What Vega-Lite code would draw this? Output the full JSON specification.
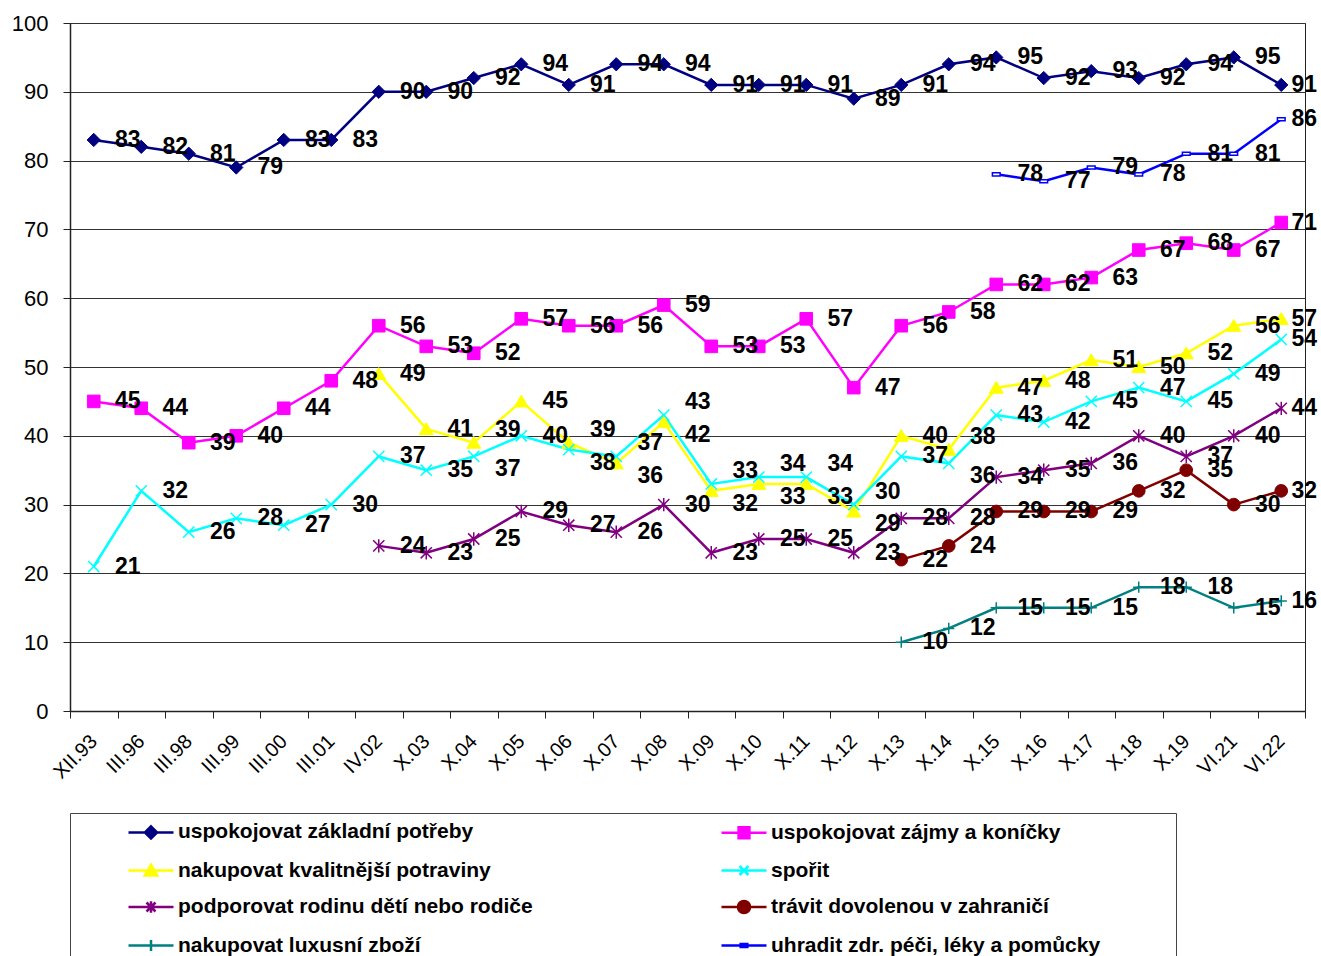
{
  "$schema": "https://vega.github.io/schema/vega-lite/v6.json",
  "width": 1235,
  "height": 688,
  "autosize": {"type": "none"},
  "padding": {"left": 70, "top": 23, "right": 16, "bottom": 245},
  "background": "white",
  "config": {
    "view": {"stroke": "#222", "strokeWidth": 1},
    "font": "Liberation Sans",
    "axis": {"labelFont": "Liberation Sans", "labelColor": "black", "domainColor": "#222", "tickColor": "#222", "title": null},
    "text": {"fontSize": 23, "fontWeight": "bold", "font": "Liberation Sans", "color": "black", "align": "center", "baseline": "middle"}
  },
  "data": {
    "values": [
      {"period": "XII.93", "series": "uspokojovat základní potřeby", "value": 83},
      {"period": "III.96", "series": "uspokojovat základní potřeby", "value": 82},
      {"period": "III.98", "series": "uspokojovat základní potřeby", "value": 81},
      {"period": "III.99", "series": "uspokojovat základní potřeby", "value": 79},
      {"period": "III.00", "series": "uspokojovat základní potřeby", "value": 83},
      {"period": "III.01", "series": "uspokojovat základní potřeby", "value": 83},
      {"period": "IV.02", "series": "uspokojovat základní potřeby", "value": 90},
      {"period": "X.03", "series": "uspokojovat základní potřeby", "value": 90},
      {"period": "X.04", "series": "uspokojovat základní potřeby", "value": 92},
      {"period": "X.05", "series": "uspokojovat základní potřeby", "value": 94},
      {"period": "X.06", "series": "uspokojovat základní potřeby", "value": 91},
      {"period": "X.07", "series": "uspokojovat základní potřeby", "value": 94},
      {"period": "X.08", "series": "uspokojovat základní potřeby", "value": 94},
      {"period": "X.09", "series": "uspokojovat základní potřeby", "value": 91},
      {"period": "X.10", "series": "uspokojovat základní potřeby", "value": 91},
      {"period": "X.11", "series": "uspokojovat základní potřeby", "value": 91},
      {"period": "X.12", "series": "uspokojovat základní potřeby", "value": 89},
      {"period": "X.13", "series": "uspokojovat základní potřeby", "value": 91},
      {"period": "X.14", "series": "uspokojovat základní potřeby", "value": 94},
      {"period": "X.15", "series": "uspokojovat základní potřeby", "value": 95},
      {"period": "X.16", "series": "uspokojovat základní potřeby", "value": 92},
      {"period": "X.17", "series": "uspokojovat základní potřeby", "value": 93},
      {"period": "X.18", "series": "uspokojovat základní potřeby", "value": 92},
      {"period": "X.19", "series": "uspokojovat základní potřeby", "value": 94},
      {"period": "VI.21", "series": "uspokojovat základní potřeby", "value": 95},
      {"period": "VI.22", "series": "uspokojovat základní potřeby", "value": 91},

      {"period": "XII.93", "series": "uspokojovat zájmy a koníčky", "value": 45},
      {"period": "III.96", "series": "uspokojovat zájmy a koníčky", "value": 44},
      {"period": "III.98", "series": "uspokojovat zájmy a koníčky", "value": 39},
      {"period": "III.99", "series": "uspokojovat zájmy a koníčky", "value": 40},
      {"period": "III.00", "series": "uspokojovat zájmy a koníčky", "value": 44},
      {"period": "III.01", "series": "uspokojovat zájmy a koníčky", "value": 48},
      {"period": "IV.02", "series": "uspokojovat zájmy a koníčky", "value": 56},
      {"period": "X.03", "series": "uspokojovat zájmy a koníčky", "value": 53},
      {"period": "X.04", "series": "uspokojovat zájmy a koníčky", "value": 52},
      {"period": "X.05", "series": "uspokojovat zájmy a koníčky", "value": 57},
      {"period": "X.06", "series": "uspokojovat zájmy a koníčky", "value": 56},
      {"period": "X.07", "series": "uspokojovat zájmy a koníčky", "value": 56},
      {"period": "X.08", "series": "uspokojovat zájmy a koníčky", "value": 59},
      {"period": "X.09", "series": "uspokojovat zájmy a koníčky", "value": 53},
      {"period": "X.10", "series": "uspokojovat zájmy a koníčky", "value": 53},
      {"period": "X.11", "series": "uspokojovat zájmy a koníčky", "value": 57},
      {"period": "X.12", "series": "uspokojovat zájmy a koníčky", "value": 47},
      {"period": "X.13", "series": "uspokojovat zájmy a koníčky", "value": 56},
      {"period": "X.14", "series": "uspokojovat zájmy a koníčky", "value": 58},
      {"period": "X.15", "series": "uspokojovat zájmy a koníčky", "value": 62},
      {"period": "X.16", "series": "uspokojovat zájmy a koníčky", "value": 62},
      {"period": "X.17", "series": "uspokojovat zájmy a koníčky", "value": 63},
      {"period": "X.18", "series": "uspokojovat zájmy a koníčky", "value": 67},
      {"period": "X.19", "series": "uspokojovat zájmy a koníčky", "value": 68},
      {"period": "VI.21", "series": "uspokojovat zájmy a koníčky", "value": 67},
      {"period": "VI.22", "series": "uspokojovat zájmy a koníčky", "value": 71},

      {"period": "IV.02", "series": "nakupovat kvalitnější potraviny", "value": 49},
      {"period": "X.03", "series": "nakupovat kvalitnější potraviny", "value": 41},
      {"period": "X.04", "series": "nakupovat kvalitnější potraviny", "value": 39},
      {"period": "X.05", "series": "nakupovat kvalitnější potraviny", "value": 45},
      {"period": "X.06", "series": "nakupovat kvalitnější potraviny", "value": 39},
      {"period": "X.07", "series": "nakupovat kvalitnější potraviny", "value": 36},
      {"period": "X.08", "series": "nakupovat kvalitnější potraviny", "value": 42},
      {"period": "X.09", "series": "nakupovat kvalitnější potraviny", "value": 32},
      {"period": "X.10", "series": "nakupovat kvalitnější potraviny", "value": 33},
      {"period": "X.11", "series": "nakupovat kvalitnější potraviny", "value": 33},
      {"period": "X.12", "series": "nakupovat kvalitnější potraviny", "value": 29},
      {"period": "X.13", "series": "nakupovat kvalitnější potraviny", "value": 40},
      {"period": "X.14", "series": "nakupovat kvalitnější potraviny", "value": 38},
      {"period": "X.15", "series": "nakupovat kvalitnější potraviny", "value": 47},
      {"period": "X.16", "series": "nakupovat kvalitnější potraviny", "value": 48},
      {"period": "X.17", "series": "nakupovat kvalitnější potraviny", "value": 51},
      {"period": "X.18", "series": "nakupovat kvalitnější potraviny", "value": 50},
      {"period": "X.19", "series": "nakupovat kvalitnější potraviny", "value": 52},
      {"period": "VI.21", "series": "nakupovat kvalitnější potraviny", "value": 56},
      {"period": "VI.22", "series": "nakupovat kvalitnější potraviny", "value": 57},

      {"period": "XII.93", "series": "spořit", "value": 21},
      {"period": "III.96", "series": "spořit", "value": 32},
      {"period": "III.98", "series": "spořit", "value": 26},
      {"period": "III.99", "series": "spořit", "value": 28},
      {"period": "III.00", "series": "spořit", "value": 27},
      {"period": "III.01", "series": "spořit", "value": 30},
      {"period": "IV.02", "series": "spořit", "value": 37},
      {"period": "X.03", "series": "spořit", "value": 35},
      {"period": "X.04", "series": "spořit", "value": 37},
      {"period": "X.05", "series": "spořit", "value": 40},
      {"period": "X.06", "series": "spořit", "value": 38},
      {"period": "X.07", "series": "spořit", "value": 37},
      {"period": "X.08", "series": "spořit", "value": 43},
      {"period": "X.09", "series": "spořit", "value": 33},
      {"period": "X.10", "series": "spořit", "value": 34},
      {"period": "X.11", "series": "spořit", "value": 34},
      {"period": "X.12", "series": "spořit", "value": 30},
      {"period": "X.13", "series": "spořit", "value": 37},
      {"period": "X.14", "series": "spořit", "value": 36},
      {"period": "X.15", "series": "spořit", "value": 43},
      {"period": "X.16", "series": "spořit", "value": 42},
      {"period": "X.17", "series": "spořit", "value": 45},
      {"period": "X.18", "series": "spořit", "value": 47},
      {"period": "X.19", "series": "spořit", "value": 45},
      {"period": "VI.21", "series": "spořit", "value": 49},
      {"period": "VI.22", "series": "spořit", "value": 54},

      {"period": "IV.02", "series": "podporovat rodinu dětí nebo rodiče", "value": 24},
      {"period": "X.03", "series": "podporovat rodinu dětí nebo rodiče", "value": 23},
      {"period": "X.04", "series": "podporovat rodinu dětí nebo rodiče", "value": 25},
      {"period": "X.05", "series": "podporovat rodinu dětí nebo rodiče", "value": 29},
      {"period": "X.06", "series": "podporovat rodinu dětí nebo rodiče", "value": 27},
      {"period": "X.07", "series": "podporovat rodinu dětí nebo rodiče", "value": 26},
      {"period": "X.08", "series": "podporovat rodinu dětí nebo rodiče", "value": 30},
      {"period": "X.09", "series": "podporovat rodinu dětí nebo rodiče", "value": 23},
      {"period": "X.10", "series": "podporovat rodinu dětí nebo rodiče", "value": 25},
      {"period": "X.11", "series": "podporovat rodinu dětí nebo rodiče", "value": 25},
      {"period": "X.12", "series": "podporovat rodinu dětí nebo rodiče", "value": 23},
      {"period": "X.13", "series": "podporovat rodinu dětí nebo rodiče", "value": 28},
      {"period": "X.14", "series": "podporovat rodinu dětí nebo rodiče", "value": 28},
      {"period": "X.15", "series": "podporovat rodinu dětí nebo rodiče", "value": 34},
      {"period": "X.16", "series": "podporovat rodinu dětí nebo rodiče", "value": 35},
      {"period": "X.17", "series": "podporovat rodinu dětí nebo rodiče", "value": 36},
      {"period": "X.18", "series": "podporovat rodinu dětí nebo rodiče", "value": 40},
      {"period": "X.19", "series": "podporovat rodinu dětí nebo rodiče", "value": 37},
      {"period": "VI.21", "series": "podporovat rodinu dětí nebo rodiče", "value": 40},
      {"period": "VI.22", "series": "podporovat rodinu dětí nebo rodiče", "value": 44},

      {"period": "X.13", "series": "trávit dovolenou v zahraničí", "value": 22},
      {"period": "X.14", "series": "trávit dovolenou v zahraničí", "value": 24},
      {"period": "X.15", "series": "trávit dovolenou v zahraničí", "value": 29},
      {"period": "X.16", "series": "trávit dovolenou v zahraničí", "value": 29},
      {"period": "X.17", "series": "trávit dovolenou v zahraničí", "value": 29},
      {"period": "X.18", "series": "trávit dovolenou v zahraničí", "value": 32},
      {"period": "X.19", "series": "trávit dovolenou v zahraničí", "value": 35},
      {"period": "VI.21", "series": "trávit dovolenou v zahraničí", "value": 30},
      {"period": "VI.22", "series": "trávit dovolenou v zahraničí", "value": 32},

      {"period": "X.13", "series": "nakupovat luxusní zboží", "value": 10},
      {"period": "X.14", "series": "nakupovat luxusní zboží", "value": 12},
      {"period": "X.15", "series": "nakupovat luxusní zboží", "value": 15},
      {"period": "X.16", "series": "nakupovat luxusní zboží", "value": 15},
      {"period": "X.17", "series": "nakupovat luxusní zboží", "value": 15},
      {"period": "X.18", "series": "nakupovat luxusní zboží", "value": 18},
      {"period": "X.19", "series": "nakupovat luxusní zboží", "value": 18},
      {"period": "VI.21", "series": "nakupovat luxusní zboží", "value": 15},
      {"period": "VI.22", "series": "nakupovat luxusní zboží", "value": 16},

      {"period": "X.15", "series": "uhradit zdr. péči, léky a pomůcky", "value": 78},
      {"period": "X.16", "series": "uhradit zdr. péči, léky a pomůcky", "value": 77},
      {"period": "X.17", "series": "uhradit zdr. péči, léky a pomůcky", "value": 79},
      {"period": "X.18", "series": "uhradit zdr. péči, léky a pomůcky", "value": 78},
      {"period": "X.19", "series": "uhradit zdr. péči, léky a pomůcky", "value": 81},
      {"period": "VI.21", "series": "uhradit zdr. péči, léky a pomůcky", "value": 81},
      {"period": "VI.22", "series": "uhradit zdr. péči, léky a pomůcky", "value": 86}
    ]
  },
  "encoding": {
    "x": {
      "field": "period",
      "type": "ordinal",
      "bandPosition": 0.5,
      "scale": {
        "type": "band",
        "paddingInner": 0,
        "paddingOuter": 0,
        "domain": ["XII.93", "III.96", "III.98", "III.99", "III.00", "III.01", "IV.02", "X.03", "X.04", "X.05", "X.06", "X.07", "X.08", "X.09", "X.10", "X.11", "X.12", "X.13", "X.14", "X.15", "X.16", "X.17", "X.18", "X.19", "VI.21", "VI.22"]
      },
      "axis": {
        "tickBand": "extent",
        "tickSize": 7,
        "labelAngle": -45,
        "labelAlign": "right",
        "labelBaseline": "middle",
        "labelFontSize": 20,
        "labelPadding": 20,
        "grid": false,
        "domainWidth": 1.5
      }
    },
    "y": {
      "field": "value",
      "type": "quantitative",
      "scale": {"domain": [0, 100], "nice": false, "zero": true},
      "axis": {
        "values": [0, 10, 20, 30, 40, 50, 60, 70, 80, 90, 100],
        "grid": true,
        "gridColor": "#333",
        "gridWidth": 1,
        "tickSize": 7,
        "labelFontSize": 22,
        "labelPadding": 15,
        "domainWidth": 1.5
      }
    }
  },
  "layer": [
    {
      "mark": {"type": "line", "strokeWidth": 2.5},
      "encoding": {
        "order": {"value": null},
        "color": {
          "field": "series",
          "type": "nominal",
          "scale": {
            "domain": ["uspokojovat základní potřeby", "uspokojovat zájmy a koníčky", "nakupovat kvalitnější potraviny", "spořit", "podporovat rodinu dětí nebo rodiče", "trávit dovolenou v zahraničí", "nakupovat luxusní zboží", "uhradit zdr. péči, léky a pomůcky"],
            "range": ["#000080", "#FF00FF", "#FFFF00", "#00FFFF", "#800080", "#800000", "#008080", "#0000FF"]
          },
          "legend": {
            "orient": "none",
            "legendX": 0,
            "legendY": 790,
            "direction": "horizontal",
            "columns": 2,
            "title": null,
            "symbolSize": 1225,
            "symbolStrokeWidth": 2.5,
            "symbolOffset": 62,
            "labelOffset": 8,
            "labelFontSize": 21,
            "labelFontWeight": "bold",
            "labelFont": "Liberation Sans",
            "labelColor": "black",
            "labelLimit": 700,
            "padding": 0,
            "strokeColor": "#444",
            "rowPadding": 7.5,
            "columnPadding": 80,
            "encode": {
              "symbols": {
                "update": {
                  "shape": {"signal": "['M-1.286,0H1.286M0,-0.347L0.347,0L0,0.347L-0.347,0ZM24.4,0', 'M-1.286,0H1.286M-0.31,-0.31H0.31V0.31H-0.31ZM24.4,0', 'M-1.286,0H1.286M0,-0.334L0.36,0.283H-0.36ZM24.4,0', 'M-1.286,0H1.286M-0.257,-0.257L0.257,0.257M-0.257,0.257L0.257,-0.257M24.4,0', 'M-1.286,0H1.286M-0.257,-0.257L0.257,0.257M-0.257,0.257L0.257,-0.257M0,-0.334V0.334M24.4,0', 'M-1.286,0H1.286M0.347,0A0.347,0.347 0 1,1 -0.347,0A0.347,0.347 0 1,1 0.347,0ZM24.4,0', 'M-1.286,0H1.286M0,-0.32V0.32M24.4,0', 'M-1.286,0H1.286M-0.19,-0.09H0.19V0.09H-0.19ZM24.4,0'][indexof(['uspokojovat základní potřeby', 'uspokojovat zájmy a koníčky', 'nakupovat kvalitnější potraviny', 'spořit', 'podporovat rodinu dětí nebo rodiče', 'trávit dovolenou v zahraničí', 'nakupovat luxusní zboží', 'uhradit zdr. péči, léky a pomůcky'], datum.value)]"},
                  "fill": {"signal": "scale('color', datum.value)"},
                  "stroke": {"signal": "scale('color', datum.value)"},
                  "strokeWidth": {"value": 2.5},
                  "opacity": {"value": 1}
                }
              }
            }
          }
        }
      }
    },
    {
      "transform": [{"filter": "datum.series === 'uspokojovat základní potřeby'"}],
      "mark": {"type": "point", "filled": true, "shape": "M0,-0.95L0.95,0L0,0.95L-0.95,0Z", "size": 196, "color": "#000080", "stroke": "#000080", "strokeWidth": 1, "opacity": 1}
    },
    {
      "transform": [{"filter": "datum.series === 'uspokojovat zájmy a koníčky'"}],
      "mark": {"type": "point", "filled": true, "shape": "M-0.9,-0.9H0.9V0.9H-0.9Z", "size": 196, "color": "#FF00FF", "stroke": "#FF00FF", "strokeWidth": 1, "opacity": 1}
    },
    {
      "transform": [{"filter": "datum.series === 'nakupovat kvalitnější potraviny'"}],
      "mark": {"type": "point", "filled": true, "shape": "M0,-0.9L1,0.8H-1Z", "size": 196, "color": "#FFFF00", "stroke": "#FFFF00", "strokeWidth": 1, "opacity": 1}
    },
    {
      "transform": [{"filter": "datum.series === 'spořit'"}],
      "mark": {"type": "point", "filled": true, "shape": "M-0.8,-0.8L0.8,0.8M-0.8,0.8L0.8,-0.8", "size": 196, "color": "#00FFFF", "stroke": "#00FFFF", "strokeWidth": 1.5, "opacity": 1}
    },
    {
      "transform": [{"filter": "datum.series === 'podporovat rodinu dětí nebo rodiče'"}],
      "mark": {"type": "point", "filled": true, "shape": "M-0.8,-0.8L0.8,0.8M-0.8,0.8L0.8,-0.8M0,-0.95V0.95", "size": 196, "color": "#800080", "stroke": "#800080", "strokeWidth": 1.5, "opacity": 1}
    },
    {
      "transform": [{"filter": "datum.series === 'trávit dovolenou v zahraničí'"}],
      "mark": {"type": "point", "filled": true, "shape": "M0.9,0A0.9,0.9 0 1,1 -0.9,0A0.9,0.9 0 1,1 0.9,0Z", "size": 196, "color": "#800000", "stroke": "#800000", "strokeWidth": 1, "opacity": 1}
    },
    {
      "transform": [{"filter": "datum.series === 'nakupovat luxusní zboží'"}],
      "mark": {"type": "point", "filled": true, "shape": "M-0.8,0H0.8M0,-0.8V0.8", "size": 196, "color": "#008080", "stroke": "#008080", "strokeWidth": 1.5, "opacity": 1}
    },
    {
      "transform": [{"filter": "datum.series === 'uhradit zdr. péči, léky a pomůcky'"}],
      "mark": {"type": "point", "filled": true, "shape": "M-0.55,-0.22H0.55V0.22H-0.55Z", "size": 196, "color": "#FFFFFF", "stroke": "#0000FF", "strokeWidth": 1.5, "opacity": 1}
    },
    {
      "transform": [{"filter": "datum.period !== 'VI.22' && datum.series !== 'spořit' && datum.series !== 'nakupovat kvalitnější potraviny'"}],
      "mark": {"type": "text", "dx": 34},
      "encoding": {"text": {"field": "value", "type": "quantitative"}}
    },
    {
      "transform": [{"filter": "datum.period === 'VI.22'"}],
      "mark": {"type": "text", "dx": 23},
      "encoding": {"text": {"field": "value", "type": "quantitative"}}
    },
    {
      "transform": [
        {"pivot": "series", "value": "value", "groupby": ["period"], "op": "max"},
        {"filter": "datum.period !== 'VI.22' && datum['spořit'] > 0 && !(abs(datum['spořit'] - datum['nakupovat kvalitnější potraviny']) <= 2)"}
      ],
      "mark": {"type": "text", "dx": 34},
      "encoding": {"y": {"field": "spořit", "type": "quantitative"}, "text": {"field": "spořit", "type": "quantitative"}}
    },
    {
      "transform": [
        {"pivot": "series", "value": "value", "groupby": ["period"], "op": "max"},
        {"filter": "datum.period !== 'VI.22' && datum['spořit'] > 0 && abs(datum['spořit'] - datum['nakupovat kvalitnější potraviny']) <= 2 && datum['spořit'] > datum['nakupovat kvalitnější potraviny']"}
      ],
      "mark": {"type": "text", "dx": 34, "dy": -13},
      "encoding": {"y": {"field": "spořit", "type": "quantitative"}, "text": {"field": "spořit", "type": "quantitative"}}
    },
    {
      "transform": [
        {"pivot": "series", "value": "value", "groupby": ["period"], "op": "max"},
        {"filter": "datum.period !== 'VI.22' && datum['spořit'] > 0 && abs(datum['spořit'] - datum['nakupovat kvalitnější potraviny']) <= 2 && datum['spořit'] < datum['nakupovat kvalitnější potraviny']"}
      ],
      "mark": {"type": "text", "dx": 34, "dy": 13},
      "encoding": {"y": {"field": "spořit", "type": "quantitative"}, "text": {"field": "spořit", "type": "quantitative"}}
    },
    {
      "transform": [
        {"pivot": "series", "value": "value", "groupby": ["period"], "op": "max"},
        {"filter": "datum.period !== 'VI.22' && datum['nakupovat kvalitnější potraviny'] > 0 && !(abs(datum['spořit'] - datum['nakupovat kvalitnější potraviny']) <= 2)"}
      ],
      "mark": {"type": "text", "dx": 34},
      "encoding": {"y": {"field": "nakupovat kvalitnější potraviny", "type": "quantitative"}, "text": {"field": "nakupovat kvalitnější potraviny", "type": "quantitative"}}
    },
    {
      "transform": [
        {"pivot": "series", "value": "value", "groupby": ["period"], "op": "max"},
        {"filter": "datum.period !== 'VI.22' && datum['nakupovat kvalitnější potraviny'] > 0 && abs(datum['spořit'] - datum['nakupovat kvalitnější potraviny']) <= 2 && datum['nakupovat kvalitnější potraviny'] > datum['spořit']"}
      ],
      "mark": {"type": "text", "dx": 34, "dy": -13},
      "encoding": {"y": {"field": "nakupovat kvalitnější potraviny", "type": "quantitative"}, "text": {"field": "nakupovat kvalitnější potraviny", "type": "quantitative"}}
    },
    {
      "transform": [
        {"pivot": "series", "value": "value", "groupby": ["period"], "op": "max"},
        {"filter": "datum.period !== 'VI.22' && datum['nakupovat kvalitnější potraviny'] > 0 && abs(datum['spořit'] - datum['nakupovat kvalitnější potraviny']) <= 2 && datum['nakupovat kvalitnější potraviny'] < datum['spořit']"}
      ],
      "mark": {"type": "text", "dx": 34, "dy": 13},
      "encoding": {"y": {"field": "nakupovat kvalitnější potraviny", "type": "quantitative"}, "text": {"field": "nakupovat kvalitnější potraviny", "type": "quantitative"}}
    }
  ]
}
